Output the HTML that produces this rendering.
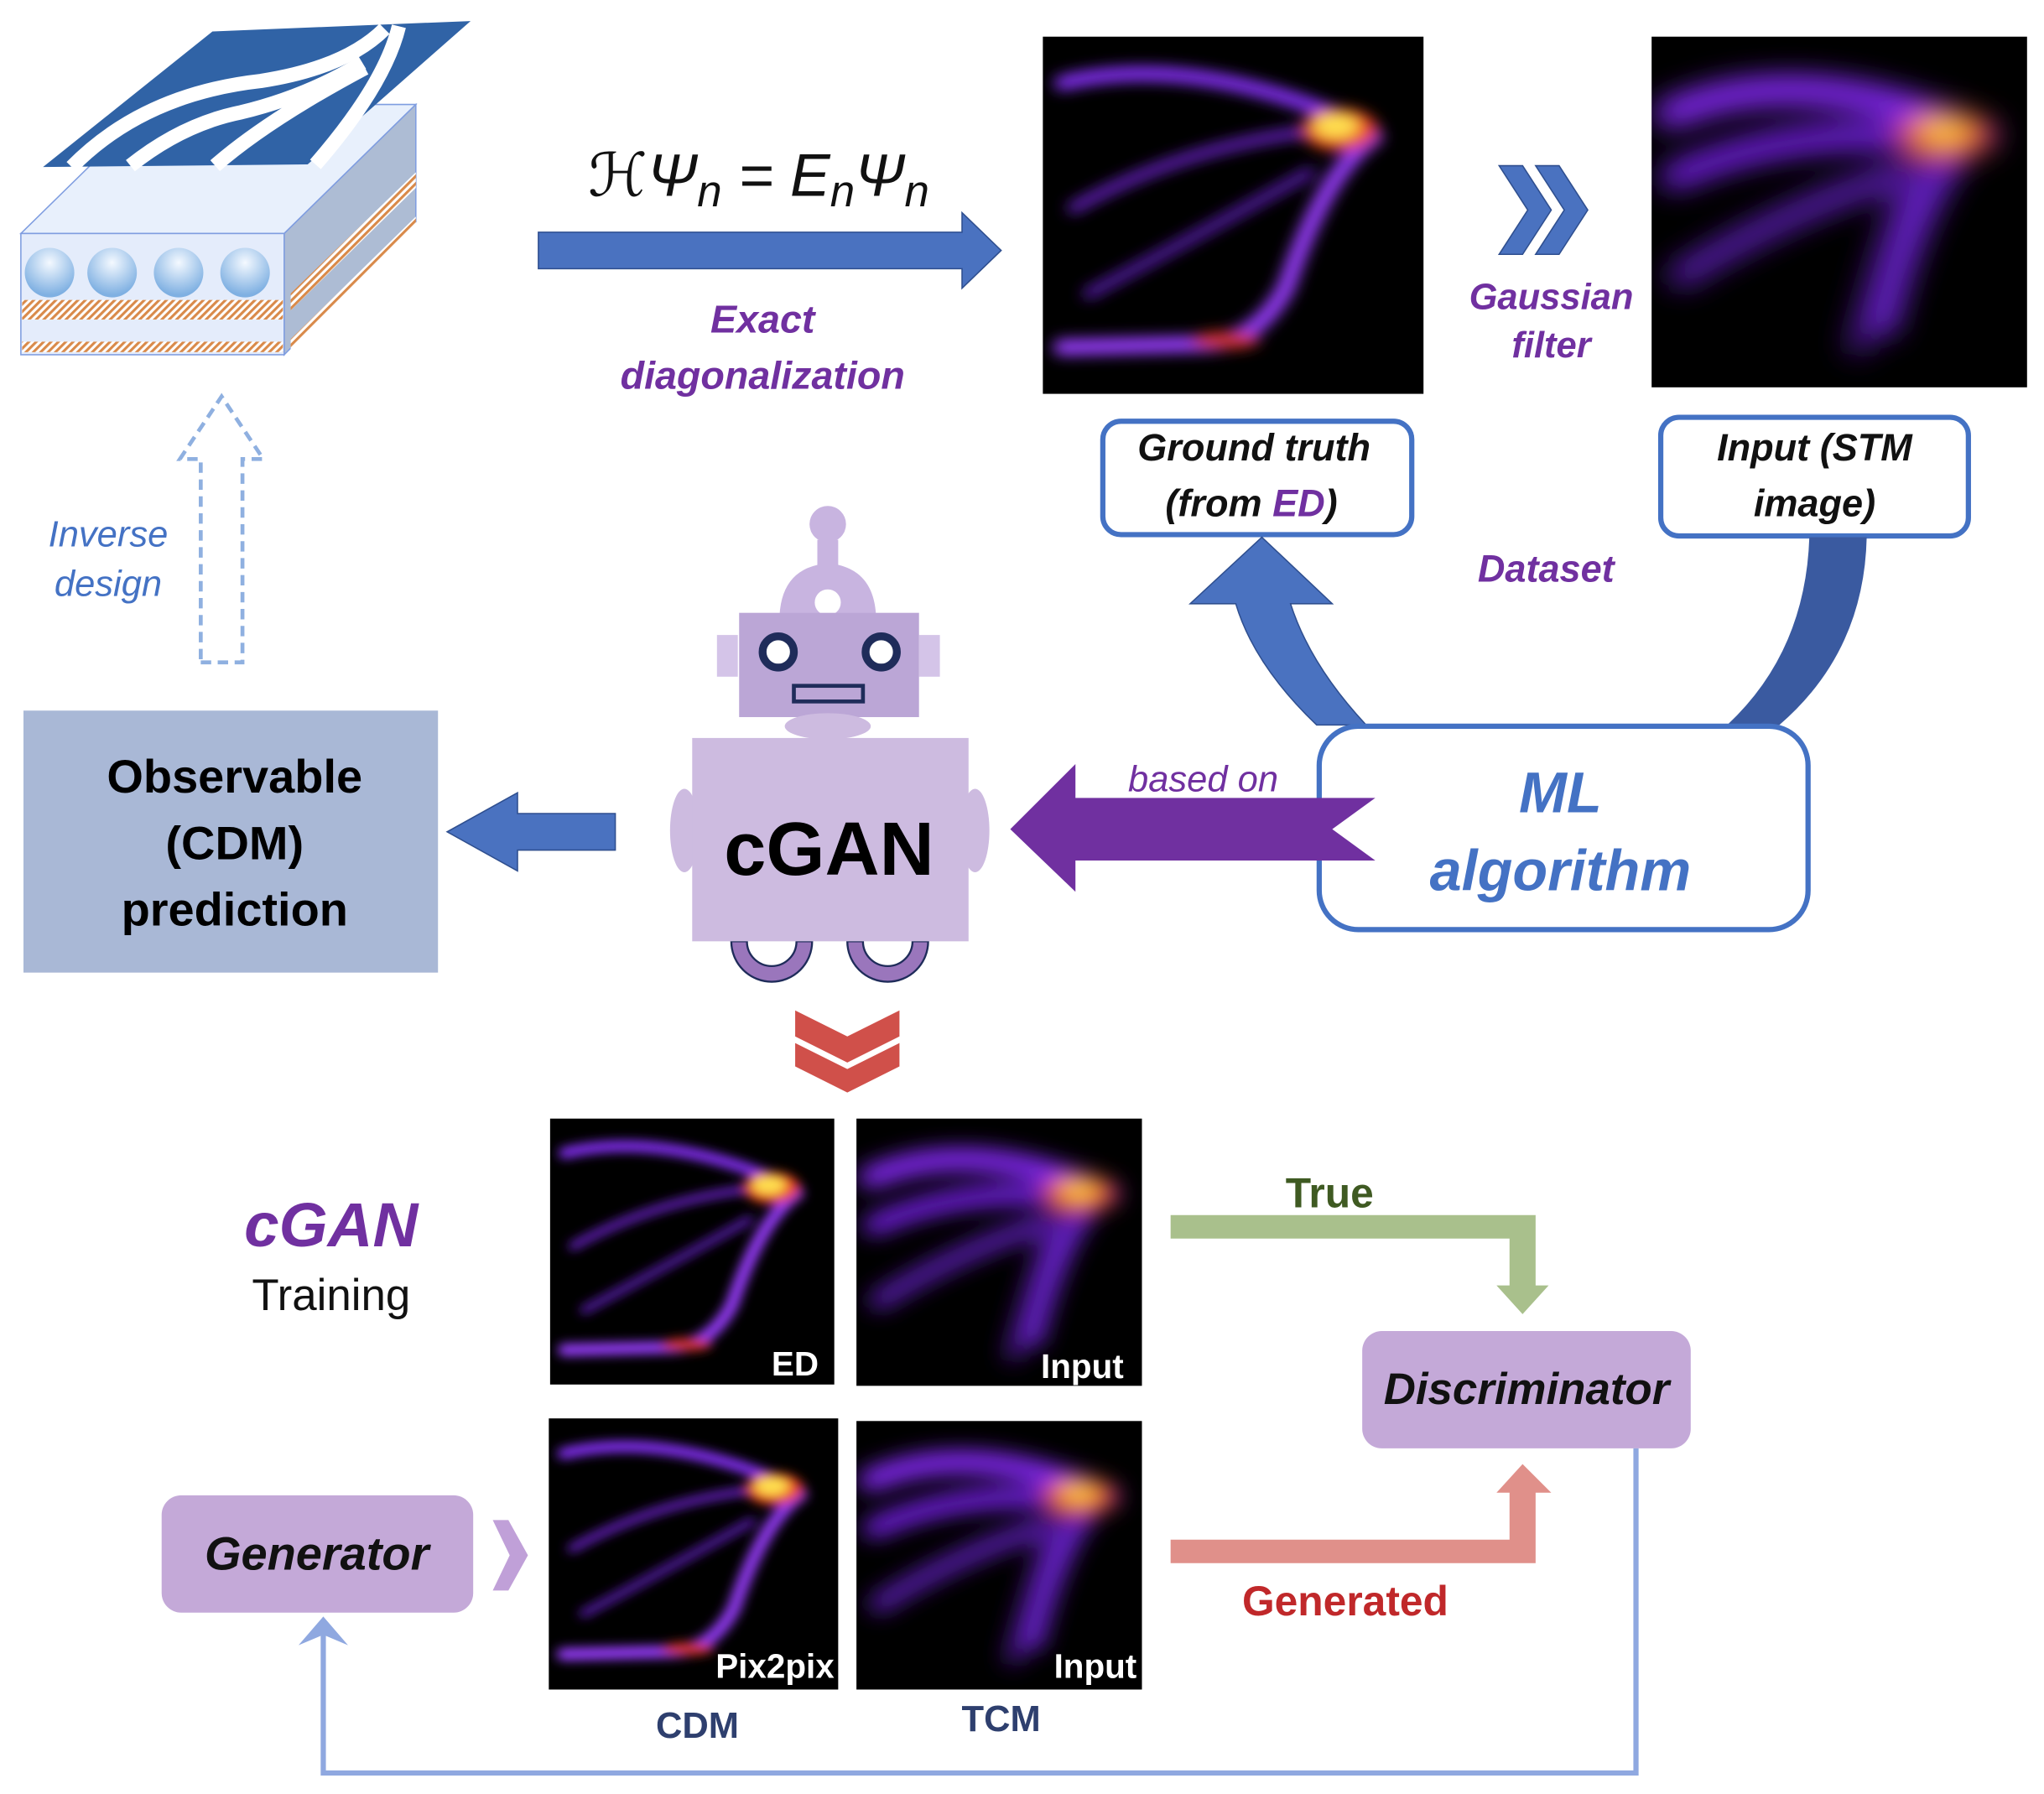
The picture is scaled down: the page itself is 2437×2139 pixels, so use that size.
<!DOCTYPE html>
<html><head><meta charset="utf-8"><style>
html,body{margin:0;padding:0;background:#fff;}
svg{display:block;}
text{font-family:"Liberation Sans","DejaVu Sans",sans-serif;}
</style></head><body>
<svg width="2437" height="2139" viewBox="0 0 1568 1376" xmlns="http://www.w3.org/2000/svg">
<defs>
<filter id="b1" x="-20%" y="-20%" width="140%" height="140%"><feGaussianBlur stdDeviation="2"/></filter>
<filter id="b2" x="-20%" y="-20%" width="140%" height="140%"><feGaussianBlur stdDeviation="4"/></filter>
<pattern id="hatch" width="4" height="4" patternUnits="userSpaceOnUse" patternTransform="rotate(45)">
<rect width="4" height="4" fill="#fff"/><rect width="2" height="4" fill="#d98a4a"/></pattern>
<radialGradient id="ball" cx="50%" cy="30%" r="65%"><stop offset="0" stop-color="#f4f9ff"/><stop offset="1" stop-color="#7fb0e2"/></radialGradient>
<clipPath id="u"><rect x="0" y="0" width="100" height="100"/></clipPath>
<g id="sharp">
<rect x="0" y="0" width="100" height="100" fill="#000"/>
<g clip-path="url(#u)" filter="url(#b1)" fill="none" stroke-linecap="round">
<path d="M5,13 Q40,4 86,26" stroke="#8a30ff" stroke-width="4"/>
<path d="M87,28 Q74,38 64,70 Q56,86 42,86 L5,87" stroke="#9a3cff" stroke-width="4.5"/>
<path d="M8,48 Q38,30 74,26" stroke="#6a22c8" stroke-width="3"/>
<path d="M12,72 Q40,56 70,38" stroke="#5a1cb0" stroke-width="3"/>
<ellipse cx="78" cy="26" rx="10" ry="6" fill="#e84020" stroke="none"/>
<ellipse cx="77" cy="25" rx="6" ry="3.5" fill="#ffe050" stroke="none"/>
<ellipse cx="48" cy="85" rx="9" ry="2.5" fill="#d03030" stroke="none"/>
</g></g>
<g id="blur">
<rect x="0" y="0" width="100" height="100" fill="#000"/>
<g clip-path="url(#u)" filter="url(#b2)" fill="none" stroke-linecap="round">
<path d="M5,22 Q40,6 88,28" stroke="#8a2cff" stroke-width="8"/>
<path d="M6,40 Q40,24 80,30" stroke="#7a24f0" stroke-width="7"/>
<path d="M82,32 Q70,48 62,82" stroke="#6a20d0" stroke-width="7"/>
<path d="M8,68 Q38,48 70,38" stroke="#5a1ab0" stroke-width="7"/>
<path d="M70,36 Q62,60 55,88" stroke="#4a148c" stroke-width="6"/>
<ellipse cx="78" cy="28" rx="13" ry="7" fill="#e84020" stroke="none"/>
<ellipse cx="78" cy="27" rx="7" ry="3.5" fill="#ffd040" stroke="none"/>
</g></g>
</defs>

<!-- device -->
<polygon points="16,179 117,80 319,80 218,179" fill="#e8f0fc" stroke="#7f9de0" stroke-width="1"/>
<polygon points="218,179 319,80 319,170 218,272" fill="#adbcd4" stroke="#7f9de0" stroke-width="1"/>
<polygon points="223,225 319,132 319,144 223,238" fill="url(#hatch)"/>
<polygon points="223,260 319,166 319,172 223,268" fill="url(#hatch)"/>
<rect x="16" y="179" width="202" height="93" fill="#e4ecfb" stroke="#7f9de0" stroke-width="1"/>
<rect x="17" y="230" width="200" height="15" fill="url(#hatch)"/>
<rect x="17" y="262" width="200" height="8" fill="url(#hatch)"/>
<circle cx="38" cy="209" r="19" fill="url(#ball)"/>
<circle cx="86" cy="209" r="19" fill="url(#ball)"/>
<circle cx="137" cy="209" r="19" fill="url(#ball)"/>
<circle cx="188" cy="209" r="19" fill="url(#ball)"/>
<polygon points="163,24 361,16 236,126 33,128" fill="#3063a6"/>
<g fill="none" stroke="#fff" stroke-width="11">
<path d="M55,128 Q110,72 200,62 Q265,52 295,22"/>
<path d="M100,127 Q140,95 185,86 Q235,74 278,48"/>
<path d="M165,127 Q205,92 280,52"/>
<path d="M242,126 Q295,65 306,20"/>
</g>

<!-- equation & ED arrow -->
<text x="582" y="150" font-family="Liberation Serif,serif" font-style="italic" font-size="46" text-anchor="middle" fill="#111">ℋΨ<tspan font-size="34" dy="8">n</tspan><tspan dy="-8"> = E</tspan><tspan font-size="34" dy="8">n</tspan><tspan dy="-8">Ψ</tspan><tspan font-size="34" dy="8">n</tspan></text>
<polygon points="413,178 738,178 738,163 768,192 738,221 738,206 413,206" fill="#4a72c0" stroke="#2f4f8f" stroke-width="1"/>
<text x="585" y="255" font-size="30" font-weight="bold" font-style="italic" fill="#7030a0" text-anchor="middle">Exact</text>
<text x="585" y="298" font-size="30" font-weight="bold" font-style="italic" fill="#7030a0" text-anchor="middle">diagonalization</text>

<!-- heatmaps top -->
<g transform="translate(800,28) scale(2.92,2.74)"><use href="#sharp"/></g>
<g transform="translate(1267,28) scale(2.88,2.69)"><use href="#blur"/></g>
<polygon points="1150,127 1168,127 1190,161 1168,195 1150,195 1172,161" fill="#4a72c0" stroke="#2f4f8f" stroke-width="1"/>
<polygon points="1178,127 1196,127 1218,161 1196,195 1178,195 1200,161" fill="#4a72c0" stroke="#2f4f8f" stroke-width="1"/>
<text x="1190" y="237" font-size="28" font-weight="bold" font-style="italic" fill="#7030a0" text-anchor="middle">Gaussian</text>
<text x="1190" y="274" font-size="28" font-weight="bold" font-style="italic" fill="#7030a0" text-anchor="middle">filter</text>

<!-- labels boxes -->
<rect x="846" y="323" width="237" height="87" rx="14" fill="#fff" stroke="#4472c4" stroke-width="4"/>
<text x="962" y="353" font-size="29" font-weight="bold" font-style="italic" fill="#111" text-anchor="middle">Ground truth</text>
<text x="960" y="396" font-size="29" font-weight="bold" font-style="italic" fill="#111" text-anchor="middle">(from <tspan fill="#7030a0">ED</tspan>)</text>
<rect x="1274" y="320" width="236" height="91" rx="14" fill="#fff" stroke="#4472c4" stroke-width="4"/>
<text x="1392" y="353" font-size="29" font-weight="bold" font-style="italic" fill="#111" text-anchor="middle">Input (STM</text>
<text x="1392" y="396" font-size="29" font-weight="bold" font-style="italic" fill="#111" text-anchor="middle">image)</text>
<text x="1186" y="446" font-size="29" font-weight="bold" font-style="italic" fill="#7030a0" text-anchor="middle">Dataset</text>

<!-- curved arrows -->
<path d="M1010,556 Q962,510 948,463 L913,463 L968,412 L1022,463 L990,463 Q1005,510 1048,556 Z" fill="#4a72c0" stroke="#2f4f8f" stroke-width="1"/>
<path d="M1325,556 Q1385,500 1388,412 L1432,412 Q1430,500 1365,556 Z" fill="#3a5aa0"/>

<!-- ML box -->
<rect x="1012" y="557" width="375" height="156" rx="30" fill="#fff" stroke="#4472c4" stroke-width="4"/>
<text x="1197" y="623" font-size="44" font-weight="bold" font-style="italic" fill="#4472c4" text-anchor="middle">ML</text>
<text x="1197" y="683" font-size="44" font-weight="bold" font-style="italic" fill="#4472c4" text-anchor="middle">algorithm</text>

<!-- based on arrow -->
<polygon points="1055,612 825,612 825,586 775,636 825,684 825,660 1055,660 1022,636" fill="#7030a0"/>
<text x="923" y="607" font-size="28" font-style="italic" fill="#7030a0" text-anchor="middle">based on</text>

<!-- robot -->
<circle cx="635" cy="402" r="14" fill="#c8b4e0"/>
<rect x="627" y="414" width="16" height="26" fill="#c8b4e0"/>
<path d="M598,472 Q600,435 635,432 Q670,435 672,472 Z" fill="#c8b4e0"/>
<circle cx="635" cy="462" r="10" fill="#fff"/>
<rect x="550" y="487" width="16" height="32" fill="#d4c4e8"/>
<rect x="705" y="487" width="16" height="32" fill="#d4c4e8"/>
<rect x="567" y="470" width="138" height="80" fill="#bba6d6"/>
<circle cx="597" cy="500" r="12" fill="#fff" stroke="#1f2c5a" stroke-width="6"/>
<circle cx="676" cy="500" r="12" fill="#fff" stroke="#1f2c5a" stroke-width="6"/>
<rect x="609" y="526" width="53" height="12" fill="none" stroke="#1f2c5a" stroke-width="3"/>
<ellipse cx="635" cy="557" rx="33" ry="10" fill="#cdbbe0"/>
<ellipse cx="525" cy="637" rx="11" ry="32" fill="#cdbbe0"/>
<ellipse cx="748" cy="637" rx="11" ry="32" fill="#cdbbe0"/>
<path d="M561,722 A31,31 0 0 0 623,722 L611,722 A19,19 0 0 1 573,722 Z" fill="#9a76bc" stroke="#1f2c5a" stroke-width="1.5"/>
<path d="M650,722 A31,31 0 0 0 712,722 L700,722 A19,19 0 0 1 662,722 Z" fill="#9a76bc" stroke="#1f2c5a" stroke-width="1.5"/>
<rect x="531" y="566" width="212" height="156" fill="#cdbbe0"/>
<text x="636" y="671" font-size="58" font-weight="bold" fill="#000" text-anchor="middle">cGAN</text>

<!-- left arrow & observable -->
<polygon points="472,624 397,624 397,608 343,638 397,668 397,652 472,652" fill="#4a72c0" stroke="#2f4f8f" stroke-width="1"/>
<rect x="18" y="545" width="318" height="201" fill="#a9b8d6"/>
<text x="180" y="608" font-size="36" font-weight="bold" fill="#000" text-anchor="middle">Observable</text>
<text x="180" y="659" font-size="36" font-weight="bold" fill="#000" text-anchor="middle">(CDM)</text>
<text x="180" y="710" font-size="36" font-weight="bold" fill="#000" text-anchor="middle">prediction</text>

<!-- inverse design -->
<polygon points="154,508 186,508 186,352 202,352 170,304 138,352 154,352" fill="none" stroke="#8fb0e0" stroke-width="3" stroke-dasharray="8,5"/>
<text x="83" y="419" font-size="28" font-style="italic" fill="#4472c4" text-anchor="middle">Inverse</text>
<text x="83" y="457" font-size="28" font-style="italic" fill="#4472c4" text-anchor="middle">design</text>

<!-- red chevrons -->
<polygon points="610,775 650,795 690,775 690,795 650,815 610,795" fill="#d0504a"/>
<polygon points="610,800 650,820 690,800 690,818 650,838 610,818" fill="#d0504a"/>

<!-- training -->
<text x="254" y="956" font-size="48" font-weight="bold" font-style="italic" fill="#7030a0" text-anchor="middle">cGAN</text>
<text x="254" y="1005" font-size="34" fill="#111" text-anchor="middle">Training</text>

<g transform="translate(422,858) scale(2.18,2.04)"><use href="#sharp"/></g>
<g transform="translate(657,858) scale(2.19,2.05)"><use href="#blur"/></g>
<g transform="translate(421,1088) scale(2.22,2.08)"><use href="#sharp"/></g>
<g transform="translate(657,1090) scale(2.19,2.06)"><use href="#blur"/></g>
<text x="628" y="1055" font-size="26" font-weight="bold" fill="#fff" text-anchor="end">ED</text>
<text x="862" y="1057" font-size="26" font-weight="bold" fill="#fff" text-anchor="end">Input</text>
<text x="640" y="1287" font-size="26" font-weight="bold" fill="#fff" text-anchor="end">Pix2pix</text>
<text x="872" y="1287" font-size="26" font-weight="bold" fill="#fff" text-anchor="end">Input</text>
<text x="535" y="1333" font-size="28" font-weight="bold" fill="#2e3f6e" text-anchor="middle">CDM</text>
<text x="768" y="1328" font-size="28" font-weight="bold" fill="#2e3f6e" text-anchor="middle">TCM</text>

<!-- true arrow -->
<polygon points="898,932 1178,932 1178,986 1188,986 1168,1008 1148,986 1158,986 1158,950 898,950" fill="#a9c08c"/>
<text x="1020" y="926" font-size="32" font-weight="bold" fill="#3f5a22" text-anchor="middle">True</text>
<!-- generated arrow -->
<polygon points="898,1181 1158,1181 1158,1145 1148,1145 1168,1123 1190,1145 1178,1145 1178,1199 898,1199" fill="#e0908a"/>
<text x="1032" y="1239" font-size="32" font-weight="bold" fill="#c0282a" text-anchor="middle">Generated</text>

<rect x="1045" y="1021" width="252" height="90" rx="15" fill="#c4a9d8"/>
<text x="1171" y="1077" font-size="34" font-weight="bold" font-style="italic" fill="#111" text-anchor="middle">Discriminator</text>
<rect x="124" y="1147" width="239" height="90" rx="15" fill="#c4a9d8"/>
<text x="243" y="1204" font-size="36" font-weight="bold" font-style="italic" fill="#111" text-anchor="middle">Generator</text>
<polygon points="378,1166 390,1166 405,1193 390,1220 378,1220 391,1193" fill="#c0a0d8"/>

<!-- feedback -->
<polyline points="1255,1111 1255,1360 248,1360 248,1250" fill="none" stroke="#8fa8e0" stroke-width="4"/>
<polygon points="229,1262 248,1240 267,1262 248,1254" fill="#8fa8e0"/>
</svg>
</body></html>
